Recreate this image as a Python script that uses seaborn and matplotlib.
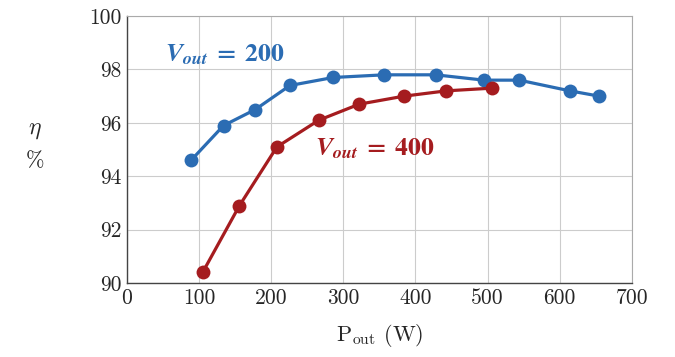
import matplotlib
matplotlib.use("Agg")
import matplotlib.pyplot as plt
import seaborn as sns
import pandas as pd

p200 = [89, 134, 178, 226, 286, 357, 428, 495, 544, 614, 655]
eta200 = [94.6, 95.9, 96.5, 97.4, 97.7, 97.8, 97.8, 97.6, 97.6, 97.2, 97.0]
p400 = [105, 156, 208, 266, 322, 384, 443, 506]
eta400 = [90.4, 92.9, 95.1, 96.1, 96.7, 97.0, 97.2, 97.3]
xticks = [0, 100, 200, 300, 400, 500, 600, 700]
yticks = [90, 92, 94, 96, 98, 100]

sns.set_theme(style="whitegrid")
plt.rcParams['font.family'] = ['cmr10', 'DejaVu Serif']
plt.rcParams['mathtext.fontset'] = 'cm'
plt.rcParams['axes.formatter.use_mathtext'] = True

blue = "#2b6cb3"
red = "#a51c1f"

df = pd.concat([
    pd.DataFrame({"P": p200, "eta": eta200, "V": "200"}),
    pd.DataFrame({"P": p400, "eta": eta400, "V": "400"}),
])

fig = plt.figure(figsize=(6.75, 3.57), dpi=100)
ax = fig.add_axes([0.188, 0.207, 0.748, 0.748])
sns.lineplot(data=df, x="P", y="eta", hue="V", palette={"200": blue, "400": red},
             marker="o", markersize=10, markeredgewidth=0, linewidth=2.3,
             legend=False, ax=ax, sort=False)

ax.set_xlim(0, 700)
ax.set_ylim(90, 100)
ax.set_xticks(xticks)
ax.set_yticks(yticks)
ax.set_xticklabels([str(v) for v in xticks], fontsize=15.5)
ax.set_yticklabels([str(v) for v in yticks], fontsize=15.5)
ax.tick_params(axis='both', length=0, pad=4)
ax.grid(True, color="#cccccc", linewidth=0.8)
for s in ["top", "right"]:
    ax.spines[s].set_color("#aaaaaa")
    ax.spines[s].set_linewidth(0.8)
for s in ["left", "bottom"]:
    ax.spines[s].set_color("#444444")
    ax.spines[s].set_linewidth(1.0)

ax.set_xlabel(r"P$_{\mathrm{out}}$ (W)", fontsize=16, labelpad=10)
ax.set_ylabel("")
fig.text(0.052, 0.635, r"$\eta$", fontsize=17, ha="center", va="center")
fig.text(0.052, 0.548, "%", fontsize=16, ha="center", va="center")

lab200 = r"$\mathbfit{V}_{\mathbfit{out}}\mathbf{\;=\;200}$"
lab400 = r"$\mathbfit{V}_{\mathbfit{out}}\mathbf{\;=\;400}$"
ax.text(53, 98.55, lab200, color=blue, fontsize=18.5, va="center", ha="left", math_fontfamily="stix")
ax.text(261, 95.05, lab400, color=red, fontsize=18.5, va="center", ha="left", math_fontfamily="stix")

fig.savefig("out.png", dpi=100)
